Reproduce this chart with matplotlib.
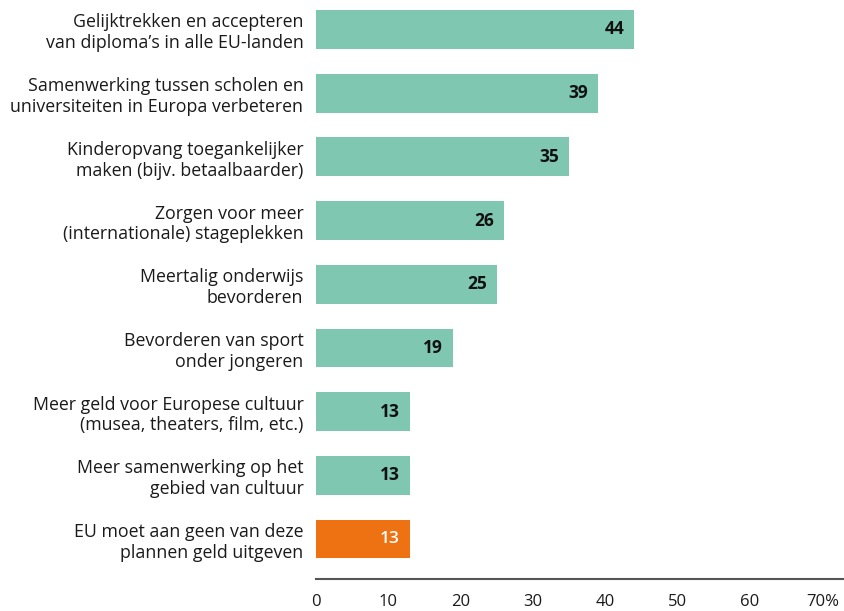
import matplotlib
matplotlib.use("Agg")
import matplotlib.pyplot as plt

# survey answers, top to bottom
labels = [
    "Gelijktrekken en accepteren\nvan diploma\u2019s in alle EU-landen",
    "Samenwerking tussen scholen en\nuniversiteiten in Europa verbeteren",
    "Kinderopvang toegankelijker\nmaken (bijv. betaalbaarder)",
    "Zorgen voor meer\n(internationale) stageplekken",
    "Meertalig onderwijs\nbevorderen",
    "Bevorderen van sport\nonder jongeren",
    "Meer geld voor Europese cultuur\n(musea, theaters, film, etc.)",
    "Meer samenwerking op het\ngebied van cultuur",
    "EU moet aan geen van deze\nplannen geld uitgeven",
]
values = [44, 39, 35, 26, 25, 19, 13, 13, 13]
highlight = [False] * 8 + [True]
xticks = [0, 10, 20, 30, 40, 50, 60, 70]
xtick_labels = ["0", "10", "20", "30", "40", "50", "60", "70%"]

TEAL = "#7fc7b1"
ORANGE = "#ee7211"
TEXT = "#1a1a1a"

plt.rcParams["font.family"] = ["Open Sans", "DejaVu Sans"]

fig = plt.figure(figsize=(8.44, 6.11), dpi=100)
ax = fig.add_axes([316 / 844, 32 / 611, 528 / 844, 579 / 611])

ypos = list(range(len(values)))
colors = [ORANGE if h else TEAL for h in highlight]
ax.barh(ypos, values, height=0.61, color=colors, zorder=2)

for y, v, h in zip(ypos, values, highlight):
    ax.text(v - 1.4, y, str(v), ha="right", va="center",
            fontsize=12.5, fontweight="semibold" if h else "bold",
            color="white" if h else "#111111")

ax.set_xlim(0, 73)
ax.set_ylim(8 + 0.628, -0.463)

ax.set_yticks(ypos)
ax.set_yticklabels(labels, fontsize=12.8, color=TEXT, linespacing=1.2)
ax.tick_params(axis="y", length=0, pad=9)

ax.set_xticks(xticks)
ax.set_xticklabels(xtick_labels, fontsize=12, color=TEXT)
ax.tick_params(axis="x", length=0, pad=11)

for side in ("top", "right", "left"):
    ax.spines[side].set_visible(False)
ax.spines["bottom"].set_color("#555555")
ax.spines["bottom"].set_linewidth(1.5)

fig.savefig("out.png", dpi=100)
